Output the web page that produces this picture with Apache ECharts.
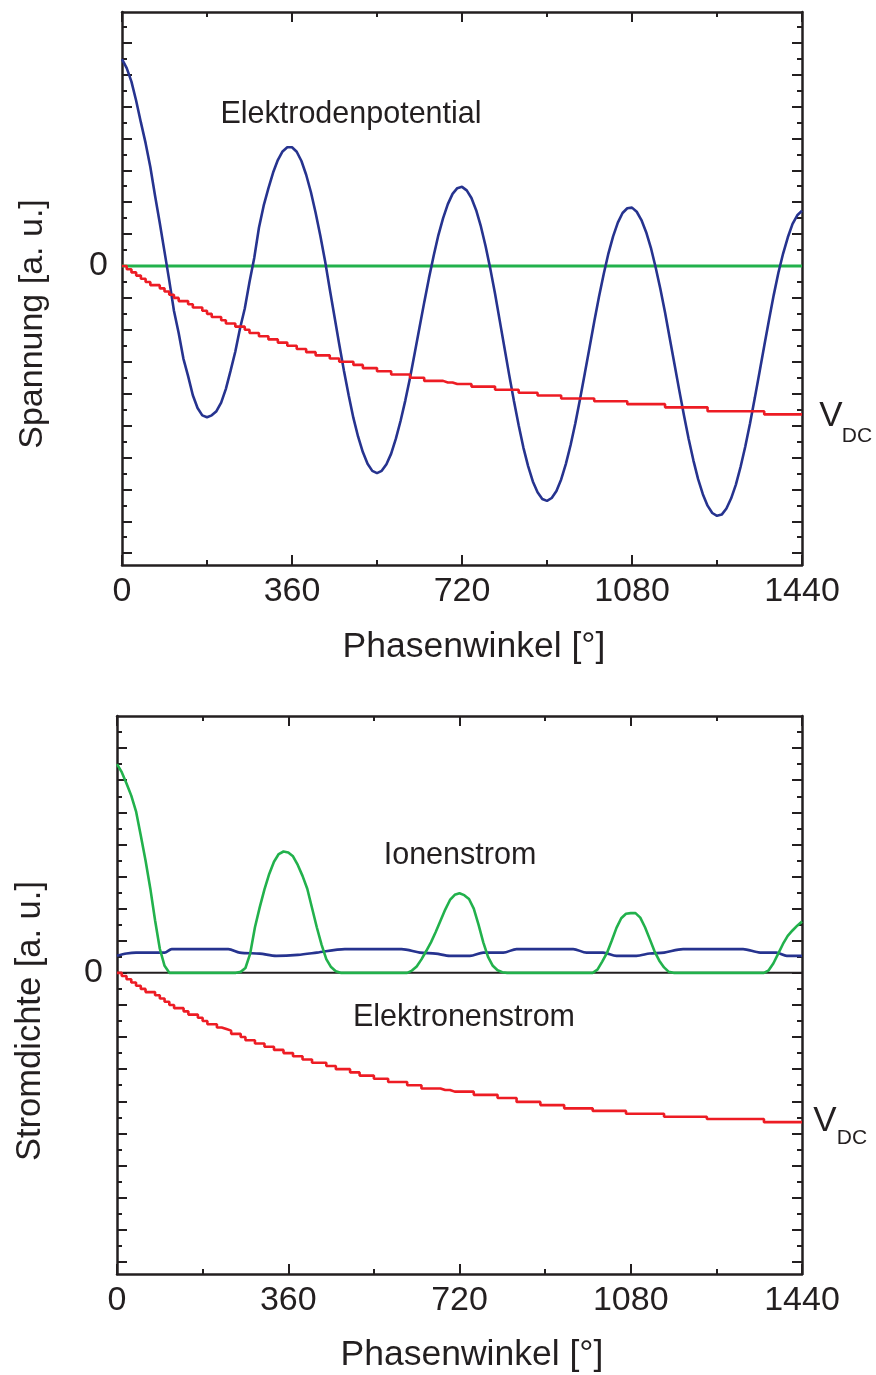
<!DOCTYPE html>
<html><head><meta charset="utf-8">
<script src="https://cdn.jsdelivr.net/npm/echarts@6/dist/echarts.min.js"></script>
<style>html,body{margin:0;padding:0;background:#fff}#c{width:876px;height:1375px}</style>
</head><body><div id="c"></div>
<script>
// ---------- data ----------
// sampling grid of the phase angle (degrees)
const phase = []; for (let d = 0; d <= 1440; d += 10) phase.push(d);
const xTickValues = [0, 360, 720, 1080, 1440];
const yMajorTicks = [-9,-8,-7,-6,-5,-4,-3,-2,-1,0,1,2,3,4,5,6,7];
const yMinorTicks = [-8.5,-7.5,-6.5,-5.5,-4.5,-3.5,-2.5,-1.5,-0.5,0.5,1.5,2.5,3.5,4.5,5.5,6.5,7.5];

// top panel: Elektrodenpotential (blue)
const elektrodenpotential = [
 6.48,6.2,5.78,5.18,4.5,3.85,3.1,2.2,1.35,0.45,
 -0.45,-1.4,-2.1,-2.9,-3.45,-4.05,-4.45,-4.68,-4.74,-4.68,
 -4.55,-4.28,-3.85,-3.28,-2.68,-1.95,-1.33,-0.5,0.25,1.2,
 1.89,2.43,2.93,3.32,3.59,3.72,3.72,3.58,3.29,2.86,
 2.32,1.67,0.95,0.16,-0.73,-1.59,-2.45,-3.28,-4.05,-4.76,
 -5.35,-5.83,-6.2,-6.42,-6.49,-6.42,-6.21,-5.88,-5.41,-4.85,
 -4.21,-3.5,-2.72,-1.93,-1.14,-0.38,0.32,0.97,1.5,1.94,
 2.26,2.44,2.48,2.37,2.13,1.75,1.24,0.62,-0.09,-0.87,
 -1.72,-2.57,-3.42,-4.23,-4.99,-5.69,-6.27,-6.75,-7.09,-7.3,
 -7.36,-7.27,-7.05,-6.69,-6.2,-5.61,-4.93,-4.17,-3.37,-2.56,
 -1.75,-0.97,-0.26,0.39,0.93,1.36,1.66,1.81,1.83,1.7,
 1.44,1.06,0.57,-0.04,-0.71,-1.46,-2.27,-3.08,-3.89,-4.68,
 -5.42,-6.09,-6.68,-7.15,-7.51,-7.74,-7.83,-7.79,-7.6,-7.28,
 -6.85,-6.29,-5.65,-4.93,-4.14,-3.33,-2.51,-1.7,-0.92,-0.21,
 0.39,0.9,1.32,1.59,1.73
];
// top panel: V_DC (red)
const vdcTop = [
 0,-0.1,-0.2,-0.3,-0.4,-0.5,-0.6,-0.6,-0.7,-0.8,
 -0.9,-1.0,-1.1,-1.1,-1.2,-1.3,-1.3,-1.4,-1.5,-1.6,
 -1.6,-1.7,-1.8,-1.8,-1.9,-1.9,-2.0,-2.1,-2.1,-2.2,
 -2.2,-2.3,-2.3,-2.4,-2.4,-2.5,-2.5,-2.6,-2.6,-2.7,
 -2.7,-2.8,-2.8,-2.8,-2.9,-2.9,-3.0,-3.0,-3.0,-3.1,
 -3.1,-3.2,-3.2,-3.2,-3.3,-3.3,-3.3,-3.4,-3.4,-3.4,
 -3.4,-3.5,-3.5,-3.5,-3.6,-3.6,-3.6,-3.6,-3.65,-3.65,
 -3.7,-3.7,-3.7,-3.7,-3.78,-3.78,-3.78,-3.78,-3.78,-3.88,
 -3.88,-3.88,-3.88,-3.88,-3.97,-3.97,-3.97,-3.97,-4.06,-4.06,
 -4.06,-4.06,-4.06,-4.15,-4.15,-4.15,-4.15,-4.15,-4.15,-4.15,
 -4.24,-4.24,-4.24,-4.24,-4.24,-4.24,-4.24,-4.33,-4.33,-4.33,
 -4.33,-4.33,-4.33,-4.33,-4.33,-4.43,-4.43,-4.43,-4.43,-4.43,
 -4.43,-4.43,-4.43,-4.43,-4.55,-4.55,-4.55,-4.55,-4.55,-4.55,
 -4.55,-4.55,-4.55,-4.55,-4.55,-4.55,-4.65,-4.65,-4.65,-4.65,
 -4.65,-4.65,-4.65,-4.65,-4.65
];
// top panel: zero reference (green)
const zeroPhase = [0, 1440];
const zeroValue = [0, 0];

// bottom panel: Ionenstrom (green)
const ionenstrom = [
 6.5,6.25,5.9,5.52,5.03,4.28,3.5,2.63,1.64,0.75,
 0.22,0,0,0,0,0,0,0,0,0,
 0,0,0,0,0,0,0.03,0.15,0.6,1.42,
 2.04,2.6,3.08,3.46,3.7,3.78,3.75,3.63,3.36,3.02,
 2.62,2.02,1.42,0.88,0.43,0.18,0.05,0,0,0,
 0,0,0,0,0,0,0,0,0,0,
 0,0,0.07,0.2,0.42,0.68,0.95,1.27,1.62,1.97,
 2.27,2.43,2.48,2.42,2.3,2.0,1.5,0.95,0.5,0.22,
 0.08,0.02,0,0,0,0,0,0,0,0,
 0,0,0,0,0,0,0,0,0,0,
 0,0.1,0.35,0.62,1.0,1.4,1.7,1.84,1.86,1.86,
 1.72,1.42,1.05,0.67,0.38,0.17,0.03,0,0,0,
 0,0,0,0,0,0,0,0,0,0,
 0,0,0,0,0,0,0,0.08,0.3,0.6,
 0.9,1.15,1.32,1.47,1.6
];
// bottom panel: blue current (small, nearly constant)
const bluePhase = [0,20,40,100,115,234,258,300,335,380,420,479,598,637,670,700,742,770,812,840,959,987,1022,1050,1092,1120,1150,1190,1316,1352,1386,1408,1440];
const blueValue = [0.53,0.6,0.63,0.63,0.74,0.74,0.63,0.6,0.53,0.56,0.63,0.74,0.74,0.63,0.6,0.53,0.53,0.63,0.63,0.74,0.74,0.63,0.63,0.53,0.53,0.6,0.63,0.74,0.74,0.63,0.63,0.53,0.53];
// bottom panel: Elektronenstrom / V_DC (red)
const vdcBottom = [
 0,-0.1,-0.2,-0.3,-0.4,-0.5,-0.6,-0.6,-0.7,-0.8,
 -0.9,-1.0,-1.1,-1.1,-1.2,-1.3,-1.3,-1.4,-1.5,-1.6,
 -1.6,-1.7,-1.75,-1.8,-1.9,-1.9,-2.0,-2.1,-2.1,-2.2,
 -2.2,-2.3,-2.3,-2.4,-2.4,-2.5,-2.5,-2.6,-2.6,-2.7,
 -2.7,-2.8,-2.8,-2.8,-2.9,-2.9,-3.0,-3.0,-3.0,-3.1,
 -3.1,-3.2,-3.2,-3.2,-3.3,-3.3,-3.3,-3.4,-3.4,-3.4,
 -3.4,-3.5,-3.5,-3.5,-3.6,-3.6,-3.6,-3.6,-3.65,-3.65,
 -3.7,-3.7,-3.7,-3.7,-3.7,-3.8,-3.8,-3.8,-3.8,-3.8,
 -3.9,-3.9,-3.9,-3.9,-4.02,-4.02,-4.02,-4.02,-4.02,-4.12,
 -4.12,-4.12,-4.12,-4.12,-4.22,-4.22,-4.22,-4.22,-4.22,-4.22,
 -4.3,-4.3,-4.3,-4.3,-4.3,-4.3,-4.3,-4.39,-4.39,-4.39,
 -4.39,-4.39,-4.39,-4.39,-4.39,-4.48,-4.48,-4.48,-4.48,-4.48,
 -4.48,-4.48,-4.48,-4.48,-4.55,-4.55,-4.55,-4.55,-4.55,-4.55,
 -4.55,-4.55,-4.55,-4.55,-4.55,-4.55,-4.65,-4.65,-4.65,-4.65,
 -4.65,-4.65,-4.65,-4.65,-4.65
];

// ---------- styling ----------
const INK = '#231f20', BLUE = '#26338f', GREEN = '#22b14c', RED = '#ed1c24';
const FONT = '"Liberation Sans", Arial, Helvetica, sans-serif';
const pairs = (xs, ys) => xs.map((x, i) => [x, ys[i]]);

function xAxisPair(gi) {
  const common = {
    type: 'value', gridIndex: gi, min: 0, max: 1440, interval: 360,
    axisLine: { show: true, onZero: false, lineStyle: { color: INK, width: 2.5 } },
    axisTick: { show: true, inside: true, length: 10, lineStyle: { color: INK, width: 2 } },
    minorTick: { show: true, splitNumber: 2, length: 5, lineStyle: { color: INK, width: 2 } },
    splitLine: { show: false }, minorSplitLine: { show: false }
  };
  return [
    Object.assign({}, common, { position: 'bottom',
      axisLabel: { show: true, fontSize: 34, color: INK, fontFamily: FONT, margin: 10,
        customValues: xTickValues, formatter: v => String(v) } }),
    Object.assign({}, common, { position: 'top', axisLabel: { show: false } })
  ];
}
function yAxisSet(gi, min, max) {
  const base = { type: 'value', gridIndex: gi, min, max, splitLine: { show: false } };
  const mk = (pos, ticks, len, line, label) => Object.assign({}, base, {
    position: pos,
    axisLine: { show: line, onZero: false, lineStyle: { color: INK, width: 2.5 } },
    axisTick: { show: true, inside: true, length: len, customValues: ticks, lineStyle: { color: INK, width: 2 } },
    axisLabel: label ? { show: true, fontSize: 34, color: INK, fontFamily: FONT, margin: 14, customValues: [0], formatter: v => String(v) } : { show: false }
  });
  return [
    mk('left', yMajorTicks, 10, true, true),
    mk('left', yMinorTicks, 5, false, false),
    mk('right', yMajorTicks, 10, true, false),
    mk('right', yMinorTicks, 5, false, false)
  ];
}

const lineSeries = (name, xi, yi, data, color, extra) => Object.assign({
  name, type: 'line', xAxisIndex: xi, yAxisIndex: yi, data, showSymbol: false, symbol: 'none',
  lineStyle: { color, width: 2.6 }, itemStyle: { color }, animation: false, silent: true
}, extra || {});

const txt = (x, y, text, size, extra) => Object.assign({ type: 'text', x, y, silent: true,
  style: { text, fontSize: size, fontFamily: FONT, fill: INK,
    align: 'center', verticalAlign: 'middle', textAlign: 'center', textVerticalAlign: 'middle' } }, extra || {});

const chart = echarts.init(document.getElementById('c'), null, { renderer: 'canvas' });
chart.setOption({
  backgroundColor: '#ffffff',
  animation: false,
  grid: [
    { left: 122, top: 12, width: 680, height: 553 },
    { left: 117, top: 716, width: 685, height: 558 }
  ],
  xAxis: [...xAxisPair(0), ...xAxisPair(1)],
  yAxis: [...yAxisSet(0, -9.37, 7.96), ...yAxisSet(1, -9.38, 8.0)],
  series: [
    lineSeries('Null', 0, 0, pairs(zeroPhase, zeroValue), GREEN, { lineStyle: { color: GREEN, width: 3 } }),
    lineSeries('Elektrodenpotential', 0, 0, pairs(phase, elektrodenpotential), BLUE),
    lineSeries('V_DC', 0, 0, pairs(phase, vdcTop), RED, { step: 'end' }),
    lineSeries('Null2', 2, 4, pairs(zeroPhase, zeroValue), INK, { lineStyle: { color: INK, width: 2 } }),
    lineSeries('Blau', 2, 4, pairs(bluePhase, blueValue), BLUE, { smooth: 0.3 }),
    lineSeries('Ionenstrom', 2, 4, pairs(phase, ionenstrom), GREEN),
    lineSeries('Elektronenstrom', 2, 4, pairs(phase, vdcBottom), RED, { step: 'end' })
  ],
  graphic: [
    txt(351, 115, 'Elektrodenpotential', 30.5),
    txt(831, 416, 'V', 35),
    txt(857, 436, 'DC', 21),
    txt(474, 647, 'Phasenwinkel [°]', 35.5),
    txt(33, 324, 'Spannung [a. u.]', 34, { rotation: Math.PI / 2 }),
    txt(460, 856, 'Ionenstrom', 30.5),
    txt(464, 1018, 'Elektronenstrom', 30.5),
    txt(825, 1121, 'V', 35),
    txt(852, 1138, 'DC', 21),
    txt(472, 1355, 'Phasenwinkel [°]', 35.5),
    txt(30, 1021, 'Stromdichte [a. u.]', 34.5, { rotation: Math.PI / 2 })
  ]
});
</script></body></html>
